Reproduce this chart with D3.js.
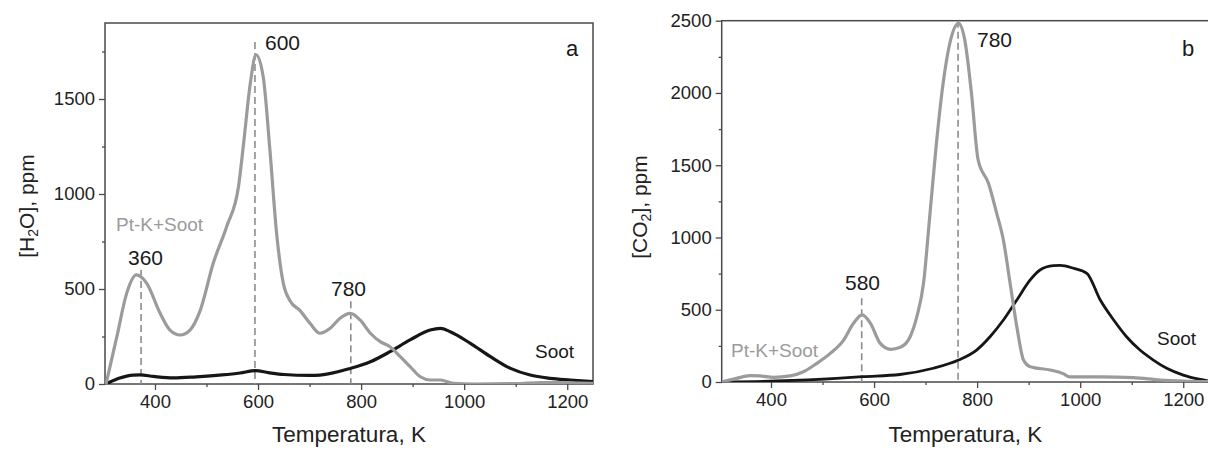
<!DOCTYPE html>
<html><head><meta charset="utf-8">
<script src="https://cdn.jsdelivr.net/npm/d3@7"></script>
<style>
body{margin:0;background:#fff;}
text{font-family:"Liberation Sans",Arial,sans-serif;}
</style></head>
<body><svg id="c" width="1208" height="450"></svg>
<script>
// ---- Data: panel a (H2O) ----
const h2oPtK_T = [305,326,345,364,384,410,429,449,468,488,513,539,562,572,585,596,610,623,636,649,662,682,701,720,740,759,779,798,818,837,856,876,895,915,934,954,979,1020,1100,1150,1200,1250];
const h2oPtK_V = [0,249,477,574,530,372,284,258,284,389,635,828,1038,1267,1583,1732,1617,1232,793,530,438,385,319,267,293,346,372,337,267,223,196,144,91,38,21,21,4,0,2,8,6,4];
const h2oSoot_T = [305,330,358,371,397,436,480,530,565,595,620,650,700,720,779,818,856,895,934,954,973,1012,1051,1090,1128,1167,1206,1250];
const h2oSoot_V = [0,30,47,48,40,32,38,48,58,70,60,50,45,47,82,117,170,232,284,293,275,214,144,82,47,30,21,12];
// ---- Data: panel b (CO2) ----
const co2PtK_T = [304,333,359,379,405,437,463,489,515,541,560,577,593,612,632,651,670,683,696,708,721,734,747,764,776,789,802,822,838,851,864,877,890,903,942,967,980,1039,1103,1155,1200,1250];
const co2PtK_V = [0,25,44,42,32,42,71,129,198,290,406,464,406,267,226,240,313,452,683,1144,1652,2067,2344,2482,2367,1998,1536,1375,1167,982,683,383,152,106,83,58,35,35,30,14,6,2];
const co2Soot_T = [304,410,527,578,650,715,764,799,825,851,877,903,922,948,961,987,1013,1039,1065,1090,1116,1142,1168,1200,1233,1250];
const co2Soot_V = [0,7,25,37,52,95,152,221,313,429,567,706,775,805,807,787,752,567,429,313,221,152,95,48,18,7];
// ---- Ticks & annotations ----
const xMajor = [400,600,800,1000,1200];
const xMinor = [500,700,900,1100];
const yMajorA = [0,500,1000,1500];
const yMinorA = [250,750,1250,1750];
const yMajorB = [0,500,1000,1500,2000,2500];
const yMinorB = [250,750,1250,1750,2250];
const peaksA = [{t:373,label:"360",from:600},{t:594,label:"600",from:1800},{t:780,label:"780",from:435}];
const peaksB = [{t:576,label:"580",from:580},{t:763,label:"780",from:2500}];

const svg = d3.select("#c");
const GREY = "#9b9b9b", BLACK = "#161616", AX = "#4a4a4a";

function panel(o){
  const x = d3.scaleLinear().domain(o.xDom).range([o.x0,o.x1]);
  const y = d3.scaleLinear().domain(o.yDom).range([o.y1,o.y0]);
  const g = svg.append("g");
  g.append("rect").attr("x",o.x0).attr("y",o.y0).attr("width",o.x1-o.x0).attr("height",o.y1-o.y0)
    .attr("fill","none").attr("stroke",AX).attr("stroke-width",1.5);
  const xa = g.append("g").attr("transform",`translate(0,${o.y1})`)
    .call(d3.axisBottom(x).tickValues(xMajor).tickSize(6).tickPadding(5).tickFormat(d3.format("d")));
  const xm = g.append("g").attr("transform",`translate(0,${o.y1})`)
    .call(d3.axisBottom(x).tickValues(xMinor).tickSize(3).tickFormat(""));
  const ya = g.append("g").attr("transform",`translate(${o.x0},0)`)
    .call(d3.axisLeft(y).tickValues(o.yMajor).tickSize(6).tickPadding(4).tickFormat(d3.format("d")));
  const ym = g.append("g").attr("transform",`translate(${o.x0},0)`)
    .call(d3.axisLeft(y).tickValues(o.yMinor).tickSize(3).tickFormat(""));
  [xa,xm,ya,ym].forEach(a=>{
    a.select(".domain").remove();
    a.selectAll(".tick line").attr("stroke",AX).attr("stroke-width",1.3);
    a.selectAll(".tick text").attr("fill","#222").style("font-size","18.5px");
  });
  g.append("text").attr("x",(o.x0+o.x1)/2).attr("y",442).attr("text-anchor","middle")
    .style("font-size","22.5px").attr("fill","#222").text("Temperatura, K");
  const yt = g.append("text").attr("transform",`translate(${o.ytx},${o.yty}) rotate(-90)`)
    .attr("text-anchor","middle").style("font-size","21px").attr("fill","#222");
  yt.append("tspan").text(o.yPre);
  yt.append("tspan").attr("baseline-shift","-25%").style("font-size","14px").text("2");
  yt.append("tspan").text(o.yPost);
  o.peaks.forEach(p=>{
    g.append("line").attr("x1",x(p.t)).attr("x2",x(p.t)).attr("y1",y(p.from)).attr("y2",o.y1)
      .attr("stroke","#8c8c8c").attr("stroke-width",1.6).attr("stroke-dasharray","7,4");
  });
  const line = d3.line().x(d=>x(d[0])).y(d=>y(d[1])).curve(d3.curveMonotoneX);
  const clip = "clip"+o.id;
  svg.append("clipPath").attr("id",clip).append("rect").attr("x",o.x0).attr("y",o.y0-4).attr("width",o.x1-o.x0).attr("height",o.y1-o.y0+4);
  const lg = g.append("g").attr("clip-path",`url(#${clip})`);
  lg.append("path").datum(d3.zip(o.sootT,o.sootV)).attr("d",line).attr("fill","none")
    .attr("stroke",BLACK).attr("stroke-width",o.sootW).attr("stroke-linejoin","round");
  lg.append("path").datum(d3.zip(o.ptT,o.ptV)).attr("d",line).attr("fill","none")
    .attr("stroke",GREY).attr("stroke-width",3.2).attr("stroke-linejoin","round");
  o.labels.forEach(l=>{
    g.append("text").attr("x",l.x).attr("y",l.y).attr("text-anchor",l.anchor||"start")
      .style("font-size",l.size+"px").attr("fill",l.fill||"#1a1a1a").text(l.text);
  });
}

panel({id:"a",xDom:[303,1250],yDom:[0,1900],x0:105,x1:593,y0:23,y1:384,
  yMajor:yMajorA,yMinor:yMinorA,ytx:34,yty:206,yPre:"[H",yPost:"O], ppm",
  peaks:peaksA,ptT:h2oPtK_T,ptV:h2oPtK_V,sootT:h2oSoot_T,sootV:h2oSoot_V,sootW:3.2,
  labels:[{x:128,y:265,text:"360",size:21},{x:265,y:50,text:"600",size:21},{x:331,y:296,text:"780",size:21},
    {x:572,y:56,text:"a",size:22,anchor:"middle"},
    {x:116,y:231,text:"Pt-K+Soot",size:19,fill:GREY},{x:535,y:358,text:"Soot",size:19}]
});
panel({id:"b",xDom:[304.3,1250],yDom:[0,2500],x0:721.7,x1:1209,y0:20.7,y1:382,
  yMajor:yMajorB,yMinor:yMinorB,ytx:647,yty:207,yPre:"[CO",yPost:"], ppm",
  peaks:peaksB,ptT:co2PtK_T,ptV:co2PtK_V,sootT:co2Soot_T,sootV:co2Soot_V,sootW:2.8,
  labels:[{x:845,y:290,text:"580",size:21},{x:977,y:47,text:"780",size:21},
    {x:1188,y:56,text:"b",size:22,anchor:"middle"},
    {x:731,y:357,text:"Pt-K+Soot",size:19,fill:GREY},{x:1157,y:345,text:"Soot",size:19}]
});
</script></body></html>
